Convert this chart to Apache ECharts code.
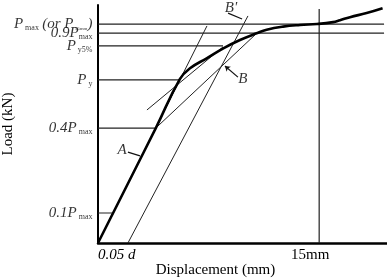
<!DOCTYPE html>
<html>
<head>
<meta charset="utf-8">
<script src="https://cdn.jsdelivr.net/npm/echarts@6/dist/echarts.min.js"></script>
<style>
  html, body { margin: 0; padding: 0; background: #fff; }
  #chart { width: 387px; height: 279px; }
</style>
</head>
<body>
<div id="chart"></div>
<script>
// schematic load-displacement curve (arbitrary load units)
const xMax = 19.6;
const yMax = 100;

const curveX = [0, 3.92, 5.56, 6.24, 7.37, 8.50, 9.63, 10.76, 11.44, 12.55, 13.7, 14.85, 15.94, 16.41, 17.09, 18.22, 19.3];
const curveY = [0, 48.3, 69.0, 73.4, 77.6, 81.8, 85.3, 88.1, 89.6, 90.9, 91.6, 92.0, 92.8, 93.6, 94.9, 96.6, 98.6];

// construction lines
const initLineX = [0, 7.39];      // initial stiffness (A)
const initLineY = [0, 91.2];
const offsetLineX = [2.03, 10.17];  // parallel line through 0.05d (B')
const offsetLineY = [0, 95.4];
const secantX = [3.92, 10.78];    // 0.4Pmax -> 0.9Pmax (B)
const secantY = [48.3, 88.2];
const tangentX = [3.32, 8.48];
const tangentY = [55.9, 82.4];

// horizontal levels (tick labels on the load axis)
const levelNames = ['0.1Pmax', '0.4Pmax', 'Py', 'Py5%', '0.9Pmax', 'Pmax'];
const levelValues = [12.6, 48.3, 68.5, 82.8, 88.2, 92.0];
const levelEnds = [0.95, 3.92, 5.56, 8.48, 19.4, 19.4];

// 15 mm line
const vLineX = 15;
const vLineTop = 98.3;

// x tick labels
const xTickValues = [0, 15];
const xTickNames = ['0.05 d', '15mm'];

// annotations
const annoNames = ['A', 'B', "B'"];
const annoX = [1.63, 9.83, 9.02];
const annoY = [39.1, 68.9, 98.7];
const leaderFrom = [[2.03, 38.2], [9.49, 69.7], [8.82, 96.6]];
const leaderTo = [[2.85, 36.6], [8.61, 74.4], [9.77, 94.1]];
const leaderArrow = [false, true, false];

const serif = '"Liberation Serif", "DejaVu Serif", serif';

function segment(xs, ys, width) {
    return {
        type: 'line',
        data: xs.map(function (x, i) { return [x, ys[i]]; }),
        symbol: 'none',
        silent: true,
        lineStyle: { color: '#222', width: width }
    };
}

const yLabelRich = {
    p: { fontFamily: serif, fontStyle: 'italic', fontSize: 15, color: '#000', verticalAlign: 'bottom', lineHeight: 15 },
    n: { fontFamily: serif, fontStyle: 'italic', fontSize: 15, color: '#000', verticalAlign: 'bottom', lineHeight: 15 },
    s: { fontFamily: serif, fontSize: 8, color: '#000', verticalAlign: 'bottom', lineHeight: 6 },
    t: { fontFamily: serif, fontSize: 5, color: '#000', verticalAlign: 'bottom', lineHeight: 4 }
};

function yLabel(name) {
    switch (name) {
        case 'Pmax': return '{p|P}{s| max} {n|(or P}{t| 15mm}{n|)}';
        case '0.9Pmax': return '{n|0.9P}{s|max}';
        case 'Py5%': return '{p|P}{s| y5%}';
        case 'Py': return '{p|P}{s| y}';
        case '0.4Pmax': return '{n|0.4P}{s| max}';
        case '0.1Pmax': return '{n|0.1P}{s| max}';
    }
    return '';
}

let series = [];
// levels
for (let i = 0; i < levelValues.length; i++) {
    series.push(segment([0, levelEnds[i]], [levelValues[i], levelValues[i]], 1.2));
}
series.push(segment([vLineX, vLineX], [0, vLineTop], 1.2));
series.push(segment(initLineX, initLineY, 1));
series.push(segment(offsetLineX, offsetLineY, 1));
series.push(segment(secantX, secantY, 1));
series.push(segment(tangentX, tangentY, 1));
// main curve
let curve = segment(curveX, curveY, 2.6);
curve.smooth = 0.45;
curve.lineStyle.color = '#000';
series.push(curve);

// leader lines
series.push({
    type: 'lines',
    coordinateSystem: 'cartesian2d',
    silent: true,
    data: leaderFrom.map(function (f, i) {
        return {
            coords: [f, leaderTo[i]],
            symbol: ['none', leaderArrow[i] ? 'arrow' : 'none'],
            symbolSize: 5
        };
    }),
    lineStyle: { color: '#111', width: 1.2, opacity: 1 }
});

// annotation letters
series.push({
    type: 'scatter',
    symbolSize: 1,
    silent: true,
    itemStyle: { color: 'rgba(0,0,0,0)' },
    data: annoNames.map(function (n, i) { return { name: n, value: [annoX[i], annoY[i]] }; }),
    label: {
        show: true,
        position: 'inside',
        formatter: '{b}',
        fontFamily: serif,
        fontStyle: 'italic',
        fontSize: 15,
        color: '#000'
    },
    labelLayout: { hideOverlap: false }
});

// load-level labels beside the axis
series.push({
    type: 'scatter',
    symbolSize: 1,
    silent: true,
    itemStyle: { color: 'rgba(0,0,0,0)' },
    data: levelNames.map(function (n, i) { return { name: n, value: [0, levelValues[i]] }; }),
    label: {
        show: true,
        position: 'left',
        distance: 5,
        formatter: function (p) { return yLabel(p.name); },
        rich: yLabelRich
    },
    labelLayout: { hideOverlap: false }
});

var myChart = echarts.init(document.getElementById('chart'));
var option = {
    backgroundColor: '#fff',
    animation: false,
    grid: { left: 98, top: 5, right: 0, bottom: 36, containLabel: false, outerBoundsMode: 'none' },
    xAxis: {
        type: 'value',
        min: 0,
        max: xMax,
        name: 'Displacement (mm)',
        nameLocation: 'middle',
        nameGap: 20,
        nameMoveOverlap: false,
        nameTextStyle: { fontFamily: serif, fontSize: 15, color: '#000', padding: [0, 54, 0, 0] },
        axisLine: { show: true, lineStyle: { color: '#000', width: 2.5 } },
        axisTick: { show: false },
        splitLine: { show: false },
        axisLabel: {
            customValues: xTickValues,
            margin: 5,
            hideOverlap: false,
            alignMinLabel: 'left',
            formatter: function (v) {
                let i = xTickValues.indexOf(v);
                return i === 0 ? '{i|' + xTickNames[i] + '}' : '{r|' + xTickNames[i] + '}';
            },
            rich: {
                i: { fontFamily: serif, fontStyle: 'italic', fontSize: 15, color: '#000' },
                r: { fontFamily: serif, fontSize: 15, color: '#000', padding: [0, 18, 0, 0] }
            }
        }
    },
    yAxis: {
        type: 'value',
        min: 0,
        max: yMax,
        name: 'Load (kN)',
        nameLocation: 'middle',
        nameGap: 82,
        nameRotate: 90,
        nameMoveOverlap: false,
        nameTextStyle: { fontFamily: serif, fontSize: 15, color: '#000' },
        axisLine: { show: true, lineStyle: { color: '#000', width: 2 } },
        axisTick: { show: false },
        splitLine: { show: false },
        axisLabel: { show: false }
    },
    series: series
};
myChart.setOption(option);
window.addEventListener("resize", function () {
    myChart.resize();
});
</script>
</body>
</html>
